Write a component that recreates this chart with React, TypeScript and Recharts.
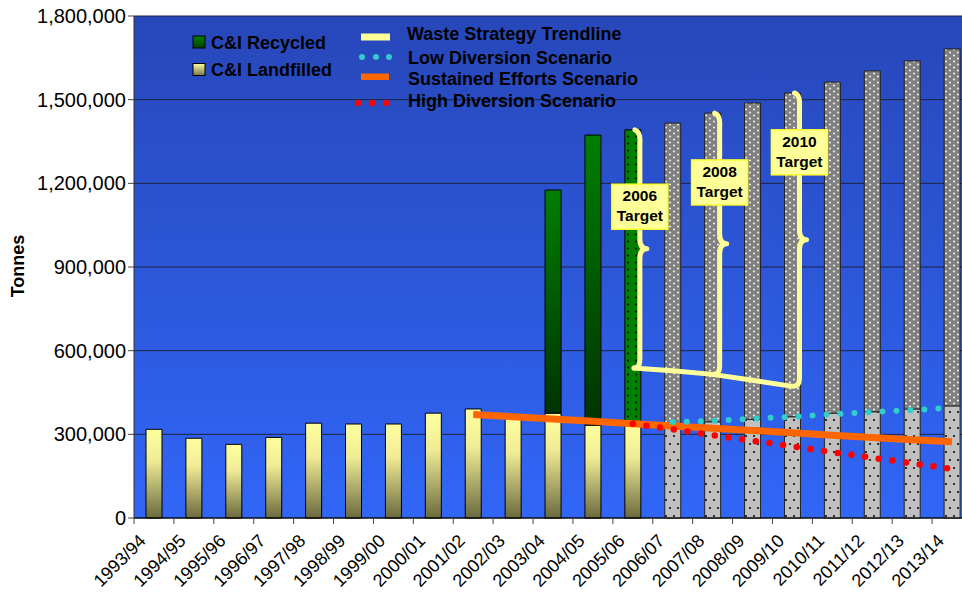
import React from 'react';
import { ComposedChart, Bar, Line, XAxis, YAxis, CartesianGrid, ReferenceDot, Cell } from 'recharts';

const categories = [
  '1993/94', '1994/95', '1995/96', '1996/97', '1997/98', '1998/99', '1999/00',
  '2000/01', '2001/02', '2002/03', '2003/04', '2004/05', '2005/06', '2006/07',
  '2007/08', '2008/09', '2009/10', '2010/11', '2011/12', '2012/13', '2013/14',
];

const _ = null;
// actual tonnages
const landfilled = [318000, 286000, 264000, 289000, 340000, 337000, 337000, 376000, 391000, 360000, 376000, 333000, 338000, _, _, _, _, _, _, _, _];
const recycled = [_, _, _, _, _, _, _, _, _, _, 800000, 1040000, 1054000, _, _, _, _, _, _, _, _];
// projections
const projLandfill = [_, _, _, _, _, _, _, _, _, _, _, _, _, 335000, 345000, 354000, 363000, 376000, 381000, 391000, 402000];
const projRecycled = [_, _, _, _, _, _, _, _, _, _, _, _, _, 1081000, 1107000, 1134000, 1161000, 1187000, 1222000, 1248000, 1280000];
// scenario lines
const trendline = [_, _, _, _, _, _, _, _, _, _, _, _, 538000, 528000, 515000, 494000, 472000, _, _, _, _];
const lowDiversion = [_, _, _, _, _, _, _, _, _, _, _, _, _, 344000, 348000, 356000, 363000, 372000, 380000, 387000, 395000];
const sustained = [_, _, _, _, _, _, _, _, 371000, 363000, 355000, 347000, 338000, 330000, 322000, 314000, 306000, 297000, 289000, 281000, 273000];
const highDiversion = [_, _, _, _, _, _, _, _, _, _, _, _, 338000, 318000, 297000, 277000, 257000, 236000, 216000, 196000, 176000];

const yTicks = [0, 300000, 600000, 900000, 1200000, 1500000, 1800000];

const targetYears = ['2005/06', '2007/08', '2009/10'];
const targetLabels = ['2006', '2008', '2010'];

const chartData = categories.map((year, i) => {
  const total = (landfilled[i] ?? projLandfill[i] ?? 0) + (recycled[i] ?? projRecycled[i] ?? 0);
  return {
    year,
    landfilled: landfilled[i],
    recycled: recycled[i],
    projLandfill: projLandfill[i],
    projRecycled: projRecycled[i],
    trendline: trendline[i],
    lowDiversion: lowDiversion[i],
    sustained: sustained[i],
    highDiversion: highDiversion[i],
    // gap between arisings and the strategy trendline, drawn as a brace
    brace: targetYears.includes(year) ? [trendline[i], total] : null,
  };
});

const FONT = '"Liberation Sans", Arial, sans-serif';
const CHART_W = 974;
const CHART_H = 596;
const Y_AXIS_W = 134;
const MARGIN_RIGHT = 2;
const HALF_BAND = (CHART_W - Y_AXIS_W - MARGIN_RIGHT) / categories.length / 2;
const PALE = '#FFFF99';

const XTick = (props: any) => {
  const { x, y, payload } = props;
  const ax = x - 7;
  const ay = y + 16;
  return (
    <g>
      <line x1={x - HALF_BAND} y1={y - 8} x2={x - HALF_BAND} y2={y - 2} stroke="#444" />
      <text x={ax} y={ay} textAnchor="end" transform={`rotate(-45, ${ax}, ${ay})`} fontSize={18} fontFamily={FONT} fill="#000">
        {payload.value}
      </text>
    </g>
  );
};

const Brace = (props: any) => {
  const { x, y, width, height } = props;
  if (x == null || y == null || !height) return null;
  const bx = x + width - 1;
  const top = y;
  const bot = y + height;
  const mid = y + height / 2;
  const d = `M ${bx - 5} ${top} Q ${bx + 1} ${top + 2} ${bx} ${top + 14} L ${bx} ${mid - 10} Q ${bx} ${mid} ${bx + 7} ${mid} Q ${bx} ${mid} ${bx} ${mid + 10} L ${bx} ${bot - 8} Q ${bx} ${bot} ${bx - 6} ${bot}`;
  return <path d={d} fill="none" stroke={PALE} strokeWidth={5} strokeLinecap="round" strokeLinejoin="round" />;
};

const TargetBox = (props: any) => {
  const { cx, cy, label } = props;
  if (cx == null || cy == null) return null;
  const bx = cx + 7;
  return (
    <g>
      <rect x={bx - 28} y={cy - 22} width={56} height={45} fill={PALE} stroke="#FFFF33" strokeWidth={1.5} />
      <text x={bx} y={cy - 5} textAnchor="middle" fontSize={15.5} fontWeight="bold" fontFamily={FONT} fill="#000">{label}</text>
      <text x={bx} y={cy + 15} textAnchor="middle" fontSize={15.5} fontWeight="bold" fontFamily={FONT} fill="#000">Target</text>
    </g>
  );
};

const Legend = () => (
  <svg width={962} height={596} style={{ position: 'absolute', left: 0, top: 0, pointerEvents: 'none' }}>
    <defs>
      <linearGradient id="legGreen" x1="0" y1="0" x2="0" y2="1">
        <stop offset="0%" stopColor="#008000" />
        <stop offset="100%" stopColor="#004000" />
      </linearGradient>
      <linearGradient id="legYellow" x1="0" y1="0" x2="0" y2="1">
        <stop offset="0%" stopColor="#FFFF9E" />
        <stop offset="100%" stopColor="#7A7848" />
      </linearGradient>
    </defs>
    <g fontFamily={FONT} fontWeight="bold" fontSize={18} fill="#000">
      <rect x={193} y={36} width={12} height={12} fill="url(#legGreen)" stroke="#000" />
      <text x={211} y={48.5}>C&amp;I Recycled</text>
      <rect x={193} y={63.5} width={12} height={12} fill="url(#legYellow)" stroke="#000" />
      <text x={211} y={76}>C&amp;I Landfilled</text>

      <rect x={361} y={33.5} width={29} height={7} fill={PALE} />
      <text x={407} y={40}>Waste Strategy Trendline</text>
      <circle cx={362} cy={57} r={3} fill="#33CCCC" />
      <circle cx={376} cy={57} r={3} fill="#33CCCC" />
      <circle cx={389} cy={57} r={3} fill="#33CCCC" />
      <text x={408} y={63.5}>Low Diversion Scenario</text>
      <rect x={361} y={73.5} width={28} height={6.5} fill="#FF6600" />
      <text x={408} y={84.5}>Sustained Efforts Scenario</text>
      <circle cx={358} cy={103} r={3.2} fill="#FF0000" />
      <circle cx={372} cy={103} r={3.2} fill="#FF0000" />
      <circle cx={386} cy={103} r={3.2} fill="#FF0000" />
      <text x={408} y={106.5}>High Diversion Scenario</text>
    </g>
    <text x={18} y={266} transform="rotate(-90, 18, 266)" textAnchor="middle" dominantBaseline="central" fontFamily={FONT} fontWeight="bold" fontSize={18} fill="#000">
      Tonnes
    </text>
  </svg>
);

const App = () => {
  return (
    <div style={{ position: 'absolute', left: 0, top: 0, width: 962, height: 596, overflow: 'hidden', background: '#fff' }}>
      <ComposedChart
        width={CHART_W}
        height={CHART_H}
        data={chartData}
        margin={{ top: 16, right: MARGIN_RIGHT, left: 0, bottom: 0 }}
      >
        <defs>
          <linearGradient id="plotBg" x1="0" y1="0" x2="0" y2="1">
            <stop offset="0%" stopColor="#2747B9" />
            <stop offset="100%" stopColor="#3166F7" />
          </linearGradient>
          <linearGradient id="gradYellow" x1="0" y1="0" x2="0" y2="1">
            <stop offset="0%" stopColor="#FFFF9E" />
            <stop offset="35%" stopColor="#F0EC96" />
            <stop offset="100%" stopColor="#6B6A3E" />
          </linearGradient>
          <linearGradient id="gradGreen" x1="0" y1="0" x2="0" y2="1">
            <stop offset="0%" stopColor="#007F00" />
            <stop offset="100%" stopColor="#003300" />
          </linearGradient>
          <pattern id="patGreen" patternUnits="userSpaceOnUse" width={8} height={7}>
            <rect width={8} height={7} fill="#008000" />
            <circle cx={4} cy={3.5} r={1} fill="#000" />
          </pattern>
          <pattern id="patLight" patternUnits="userSpaceOnUse" width={8} height={16}>
            <rect width={8} height={16} fill="#C0C0C0" />
            <circle cx={2} cy={4} r={1} fill="#000" />
            <circle cx={6} cy={12} r={1} fill="#000" />
          </pattern>
          <pattern id="patDark" patternUnits="userSpaceOnUse" width={8} height={6}>
            <rect width={8} height={6} fill="#808080" />
            <circle cx={2} cy={1.5} r={0.9} fill="#fff" />
            <circle cx={6} cy={4.5} r={0.9} fill="#fff" />
          </pattern>
        </defs>
        <CartesianGrid vertical={false} stroke="#1b2440" fill="url(#plotBg)" fillOpacity={1} />
        <XAxis
          dataKey="year"
          height={78}
          interval={0}
          tickLine={false}
          tickSize={6}
          tickMargin={2}
          axisLine={{ stroke: '#000' }}
          tick={(p: any) => <XTick {...p} />}
        />
        <XAxis xAxisId="brace" dataKey="year" hide />
        <YAxis
          width={Y_AXIS_W}
          domain={[0, 1800000]}
          ticks={yTicks}
          interval={0}
          tickFormatter={(v: number) => v.toLocaleString('en-US')}
          tick={{ fill: '#000', fontSize: 20, fontFamily: FONT }}
          tickLine={{ stroke: '#444' }}
          axisLine={{ stroke: '#333' }}
        />
        <Bar dataKey="landfilled" stackId="a" barSize={16} fill="url(#gradYellow)" stroke="#000" strokeWidth={1} isAnimationActive={false} />
        <Bar dataKey="recycled" stackId="a" barSize={16} stroke="#000" strokeWidth={1} isAnimationActive={false}>
          {chartData.map((d) => (
            <Cell key={d.year} fill={d.year === '2005/06' ? 'url(#patGreen)' : 'url(#gradGreen)'} />
          ))}
        </Bar>
        <Bar dataKey="projLandfill" stackId="a" barSize={16} fill="url(#patLight)" stroke="#222" strokeWidth={1} isAnimationActive={false} />
        <Bar dataKey="projRecycled" stackId="a" barSize={16} fill="url(#patDark)" stroke="#222" strokeWidth={1} isAnimationActive={false} />
        <Bar xAxisId="brace" dataKey="brace" barSize={16} isAnimationActive={false} shape={(p: any) => <Brace {...p} />} />
        <Line dataKey="trendline" stroke={PALE} strokeWidth={5} dot={false} activeDot={false} isAnimationActive={false} />
        <Line dataKey="sustained" stroke="#FF6600" strokeWidth={7} dot={false} activeDot={false} isAnimationActive={false} />
        <Line dataKey="lowDiversion" stroke="#33CCCC" strokeWidth={6} strokeDasharray="0 14" strokeLinecap="round" dot={false} activeDot={false} isAnimationActive={false} />
        <Line dataKey="highDiversion" stroke="#FF0000" strokeWidth={6.5} strokeDasharray="0 13.8" strokeLinecap="round" dot={false} activeDot={false} isAnimationActive={false} />
        <ReferenceDot x={targetYears[0]} y={1118000} ifOverflow="visible" shape={(p: any) => <TargetBox {...p} label={targetLabels[0]} />} />
        <ReferenceDot x={targetYears[1]} y={1205000} ifOverflow="visible" shape={(p: any) => <TargetBox {...p} label={targetLabels[1]} />} />
        <ReferenceDot x={targetYears[2]} y={1313000} ifOverflow="visible" shape={(p: any) => <TargetBox {...p} label={targetLabels[2]} />} />
      </ComposedChart>
      <Legend />
    </div>
  );
};

export default App;
